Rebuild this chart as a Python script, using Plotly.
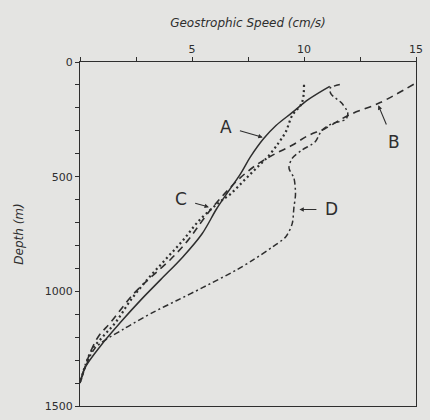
import plotly.graph_objects as go

# Curve A (solid)
a_speed = [11.15, 10.2, 9.48, 8.75, 8.2, 7.6, 7.15, 6.58, 6.1, 5.45, 4.6, 3.6, 2.75, 1.82, 0.95, 0.22, 0.0]
a_depth = [106, 163, 220, 277, 334, 415, 490, 570, 640, 749, 849, 949, 1034, 1134, 1234, 1334, 1400]

# Curve B (dashed)
b_speed = [14.9, 13.4, 11.95, 10.93, 10.2, 9.47, 8.6, 7.87, 7.14, 6.56, 5.95, 5.4, 4.8, 4.05, 3.15, 2.4, 1.38, 0.8, 0.36, 0.0]
b_depth = [97, 177, 234, 291, 320, 363, 406, 449, 506, 563, 630, 700, 780, 860, 940, 1010, 1134, 1200, 1291, 1400]

# Curve C (dotted)
c_speed = [10.0, 9.91, 9.47, 9.18, 8.89, 8.45, 7.87, 7.29, 6.7, 6.2, 5.32, 4.6, 3.8, 3.0, 2.25, 1.6, 1.0, 0.5, 0.0]
c_depth = [99, 177, 234, 306, 349, 406, 463, 520, 577, 613, 691, 777, 863, 949, 1040, 1134, 1200, 1260, 1400]

# Curve D (dash-dot)
d_speed = [11.6, 11.15, 11.22, 11.66, 11.95, 11.88, 11.22, 10.79, 10.49, 9.91, 9.47, 9.33, 9.55, 9.62, 9.55, 9.47, 9.18, 8.6, 7.73, 7.0, 5.47, 4.3, 3.28, 1.97, 0.66, 0.0]
d_depth = [98, 115, 141, 177, 220, 249, 270, 299, 349, 384, 420, 463, 506, 577, 634, 706, 763, 806, 863, 906, 984, 1041, 1091, 1163, 1249, 1400]

x_tickvals = [0, 2.5, 5, 7.5, 10, 12.5, 15]
x_ticktext = ["", "", "5", "", "10", "", "15"]
y_tickvals = list(range(0, 1501, 100))
y_ticktext = [str(v) if v % 500 == 0 else "" for v in y_tickvals]

INK = "#2e2e2e"
BG = "#e4e4e2"

fig = go.Figure()
fig.add_trace(go.Scatter(x=a_speed, y=a_depth, mode="lines",
                         line=dict(color=INK, width=1.5, shape="spline", smoothing=1.0)))
fig.add_trace(go.Scatter(x=b_speed, y=b_depth, mode="lines",
                         line=dict(color=INK, width=1.6, dash="7px,5px", shape="spline", smoothing=1.0)))
fig.add_trace(go.Scatter(x=c_speed, y=c_depth, mode="lines",
                         line=dict(color=INK, width=2.2, dash="2px,3px", shape="spline", smoothing=1.0)))
fig.add_trace(go.Scatter(x=d_speed, y=d_depth, mode="lines",
                         line=dict(color=INK, width=1.5, dash="6px,3px,2px,3px", shape="spline", smoothing=0.8)))

lab_font = dict(family="DejaVu Sans", size=17, color=INK)
ann = [
    dict(x=8.2, y=330, text="A", ax=-38, ay=-11),
    dict(x=13.3, y=185, text="B", ax=16, ay=38),
    dict(x=5.8, y=634, text="C", ax=-29, ay=-8),
    dict(x=9.75, y=643, text="D", ax=33, ay=0),
]
for a in ann:
    fig.add_annotation(x=a["x"], y=a["y"], text=a["text"], ax=a["ax"], ay=a["ay"],
                       showarrow=True, arrowhead=2, arrowsize=0.8, arrowwidth=1.1,
                       arrowcolor=INK, font=lab_font, standoff=1, startstandoff=7)

fig.update_layout(
    width=430, height=420,
    margin=dict(l=80, r=7, t=62, b=8),
    paper_bgcolor=BG, plot_bgcolor=BG,
    showlegend=False,
    font=dict(family="DejaVu Sans", color=INK, size=11),
    xaxis=dict(side="top", range=[0, 15], tickvals=x_tickvals, ticktext=x_ticktext,
               ticks="outside", ticklen=4, tickcolor=INK, showgrid=False, zeroline=False,
               showline=True, linecolor=INK, linewidth=1.2, mirror=True,
               title=dict(text="<i>Geostrophic Speed (cm/s)</i>", font=dict(size=12), standoff=12)),
    yaxis=dict(range=[1500, 0], tickvals=y_tickvals, ticktext=y_ticktext,
               ticks="outside", ticklen=4, tickcolor=INK, showgrid=False, zeroline=False,
               showline=True, linecolor=INK, linewidth=1.2, mirror=True,
               title=dict(text="<i>Depth (m)</i>", font=dict(size=12), standoff=18)),
)

fig.write_html("out.html")
